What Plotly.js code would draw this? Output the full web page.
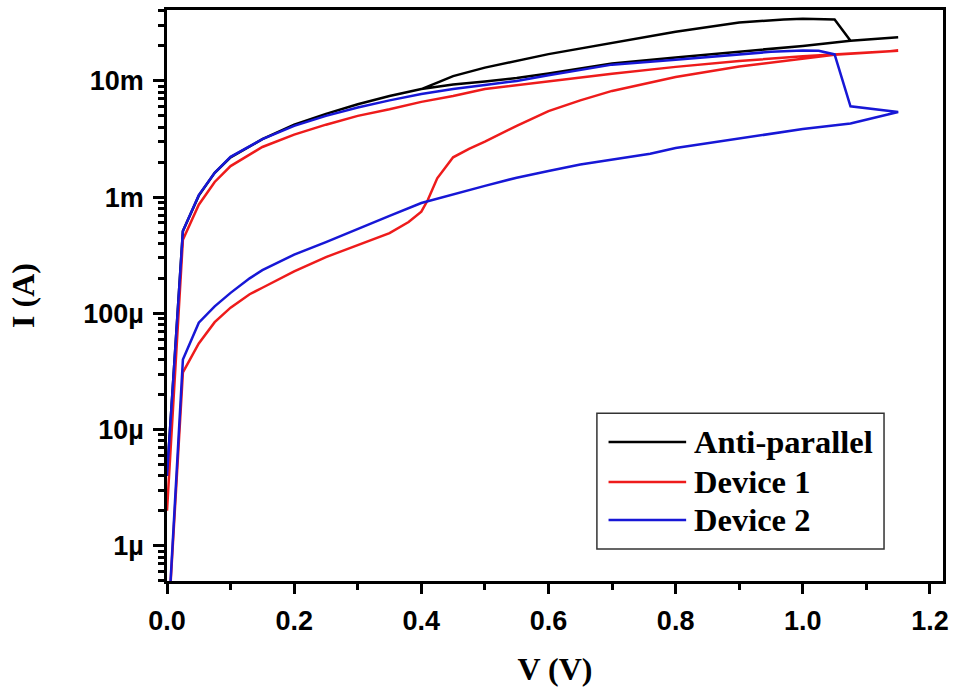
<!DOCTYPE html>
<html>
<head>
<meta charset="utf-8">
<script src="https://cdn.plot.ly/plotly-3.0.1.min.js"></script>
<style>html,body{margin:0;padding:0;background:#fff;}#chart{width:954px;height:690px;}</style>
</head>
<body>
<div id="chart"></div>
<script>
// ---- data (V in volts, I in amperes) ----
const seriesNames = ["Anti-parallel", "Device 1", "Device 2"];
const seriesColors = ["#000000", "#ee1b1b", "#1717d6"];

// Anti-parallel: common rise, lower branch to 1.15 V, then upper branch back
const apV = [0, 0.025, 0.05, 0.075, 0.1, 0.15, 0.2, 0.25, 0.3, 0.35, 0.4,
  0.45, 0.5, 0.55, 0.6, 0.7, 0.8, 0.9, 1.0, 1.075, 1.15,
  1.075, 1.05, 1.0, 0.97, 0.9, 0.8, 0.7, 0.6, 0.5, 0.45, 0.43, 0.4];
const apI = [4e-6, 5.1e-4, 1.03e-3, 1.62e-3, 2.2e-3, 3.15e-3, 4.2e-3, 5.2e-3, 6.3e-3, 7.4e-3, 8.5e-3,
  9.3e-3, 9.9e-3, 10.6e-3, 11.6e-3, 14.1e-3, 15.9e-3, 17.9e-3, 20.0e-3, 22.2e-3, 23.8e-3,
  22.2e-3, 33.7e-3, 34.3e-3, 33.7e-3, 31.8e-3, 26.5e-3, 21.3e-3, 17.0e-3, 13.0e-3, 11.0e-3, 9.9e-3, 8.5e-3];

// Device 1: lower (HRS) branch forward, upper (LRS) branch back
const d1V = [0, 0.025, 0.05, 0.075, 0.1, 0.13, 0.15, 0.2, 0.25, 0.3, 0.35, 0.38, 0.4, 0.41, 0.425, 0.45, 0.475, 0.5, 0.55, 0.6, 0.65, 0.7, 0.76, 0.8, 0.9, 1.0, 1.05, 1.1, 1.15,
  1.1, 1.0, 0.9, 0.8, 0.7, 0.6, 0.5, 0.45, 0.4, 0.35, 0.3, 0.25, 0.2, 0.15, 0.1, 0.075, 0.05, 0.025, 0];
const d1I = [1.4e-7, 3.1e-5, 5.5e-5, 8.4e-5, 1.12e-4, 1.46e-4, 1.66e-4, 2.3e-4, 3.05e-4, 3.85e-4, 4.9e-4, 6.1e-4, 7.5e-4, 9.4e-4, 1.45e-3, 2.2e-3, 2.6e-3, 3.0e-3, 4.1e-3, 5.5e-3, 6.8e-3, 8.2e-3, 9.75e-3, 10.8e-3, 13.3e-3, 15.6e-3, 16.8e-3, 17.5e-3, 18.2e-3,
  17.5e-3, 16.3e-3, 14.8e-3, 13.2e-3, 11.5e-3, 9.9e-3, 8.5e-3, 7.4e-3, 6.6e-3, 5.7e-3, 5.0e-3, 4.2e-3, 3.45e-3, 2.7e-3, 1.85e-3, 1.35e-3, 0.86e-3, 4.3e-4, 2e-6];

// Device 2: upper (LRS) branch forward, switch near 1.05 V, lower (HRS) branch back
const d2V = [0, 0.025, 0.05, 0.075, 0.1, 0.15, 0.2, 0.25, 0.3, 0.35, 0.4, 0.45, 0.5, 0.55, 0.6, 0.7, 0.8, 0.9, 0.95, 1.0, 1.025, 1.05, 1.075, 1.15,
  1.075, 1.0, 0.9, 0.8, 0.76, 0.7, 0.65, 0.6, 0.55, 0.5, 0.45, 0.4, 0.35, 0.3, 0.25, 0.2, 0.15, 0.13, 0.1, 0.075, 0.05, 0.025, 0];
const d2I = [4e-6, 5.1e-4, 1.04e-3, 1.62e-3, 2.22e-3, 3.15e-3, 4.1e-3, 5.0e-3, 5.9e-3, 6.8e-3, 7.7e-3, 8.5e-3, 9.2e-3, 10.0e-3, 11.2e-3, 13.8e-3, 15.2e-3, 16.9e-3, 17.8e-3, 18.3e-3, 18.2e-3, 16.9e-3, 6.05e-3, 5.4e-3,
  4.3e-3, 3.85e-3, 3.2e-3, 2.65e-3, 2.36e-3, 2.1e-3, 1.91e-3, 1.68e-3, 1.47e-3, 1.25e-3, 1.05e-3, 0.89e-3, 6.9e-4, 5.3e-4, 4.1e-4, 3.2e-4, 2.35e-4, 2.0e-4, 1.5e-4, 1.15e-4, 8.3e-5, 4.0e-5, 1.4e-7];

const yTickVals = [1e-6, 1e-5, 1e-4, 1e-3, 1e-2];
const yTickText = ["1µ", "10µ", "100µ", "1m", "10m"];
const xTickVals = [0, 0.2, 0.4, 0.6, 0.8, 1.0, 1.2];
const xTickText = ["0.0", "0.2", "0.4", "0.6", "0.8", "1.0", "1.2"];

// ---- build ----
const xs = [apV, d1V, d2V];
const ys = [apI, d1I, d2I];
const traces = seriesNames.map((n, i) => ({
  x: xs[i], y: ys[i], name: n, type: "scatter", mode: "lines",
  line: {color: seriesColors[i], width: 2.5}, showlegend: false, hoverinfo: "x+y+name"
}));

// minor ticks on log axis (2..9 of each decade)
const yMinor = [];
for (let d = -7; d <= -1; d++) for (let k = 2; k <= 9; k++) yMinor.push(k * Math.pow(10, d));

const tickFont = {family: "Liberation Sans, Arial, sans-serif", size: 27, color: "#000", weight: "bold"};
const titleFont = {family: "Liberation Serif, Times New Roman, serif", size: 32, color: "#000", weight: "bold"};
const legFont = {family: "Liberation Serif, Times New Roman, serif", size: 32.5, color: "#000", weight: "bold"};

// legend drawn in paper coordinates
const legBox = {x0: 0.554, x1: 0.924, y0: 0.056, y1: 0.294};
const rowY = [0.2434, 0.1734, 0.1068];
const shapes = [{type: "rect", xref: "paper", yref: "paper", x0: legBox.x0, x1: legBox.x1, y0: legBox.y0, y1: legBox.y1,
  line: {color: "#333", width: 1.5}, fillcolor: "rgba(255,255,255,0)"}];
const annotations = [];
seriesNames.forEach((n, i) => {
  shapes.push({type: "line", xref: "paper", yref: "paper", x0: 0.569, x1: 0.669, y0: rowY[i], y1: rowY[i],
    line: {color: seriesColors[i], width: 2.5}});
  annotations.push({xref: "paper", yref: "paper", x: 0.677, y: rowY[i], xanchor: "left", yanchor: "middle",
    text: n, showarrow: false, font: legFont});
});

const layout = {
  width: 954, height: 690,
  margin: {l: 167, r: 11, t: 10, b: 109},
  paper_bgcolor: "#fff", plot_bgcolor: "#fff",
  showlegend: false,
  xaxis: {
    range: [0, 1.2205], tickmode: "array", tickvals: xTickVals, ticktext: xTickText,
    ticks: "outside", ticklen: 10, tickwidth: 2.5, tickcolor: "#000",
    minor: {ticks: "outside", dtick: 0.1, tick0: 0, ticklen: 6, tickwidth: 2.5, tickcolor: "#000"},
    showline: true, linewidth: 2.5, linecolor: "#000", mirror: true,
    showgrid: false, zeroline: false, tickfont: tickFont, ticklabelstandoff: 4,
    title: {text: "V (V)", font: titleFont, standoff: 23}, automargin: false
  },
  yaxis: {
    type: "log", range: [-6.303, -1.39], tickmode: "array", tickvals: yTickVals, ticktext: yTickText,
    ticks: "outside", ticklen: 11, tickwidth: 2.5, tickcolor: "#000",
    minor: {ticks: "outside", tickmode: "array", tickvals: yMinor, ticklen: 6, tickwidth: 2.5, tickcolor: "#000"},
    showline: true, linewidth: 2.5, linecolor: "#000", mirror: true,
    showgrid: false, zeroline: false, tickfont: tickFont, ticklabelstandoff: 4,
    title: {text: "I (A)", font: titleFont, standoff: 40}, automargin: false
  },
  shapes: shapes,
  annotations: annotations
};

Plotly.newPlot("chart", traces, layout, {displayModeBar: false, staticPlot: false});
</script>
</body>
</html>
